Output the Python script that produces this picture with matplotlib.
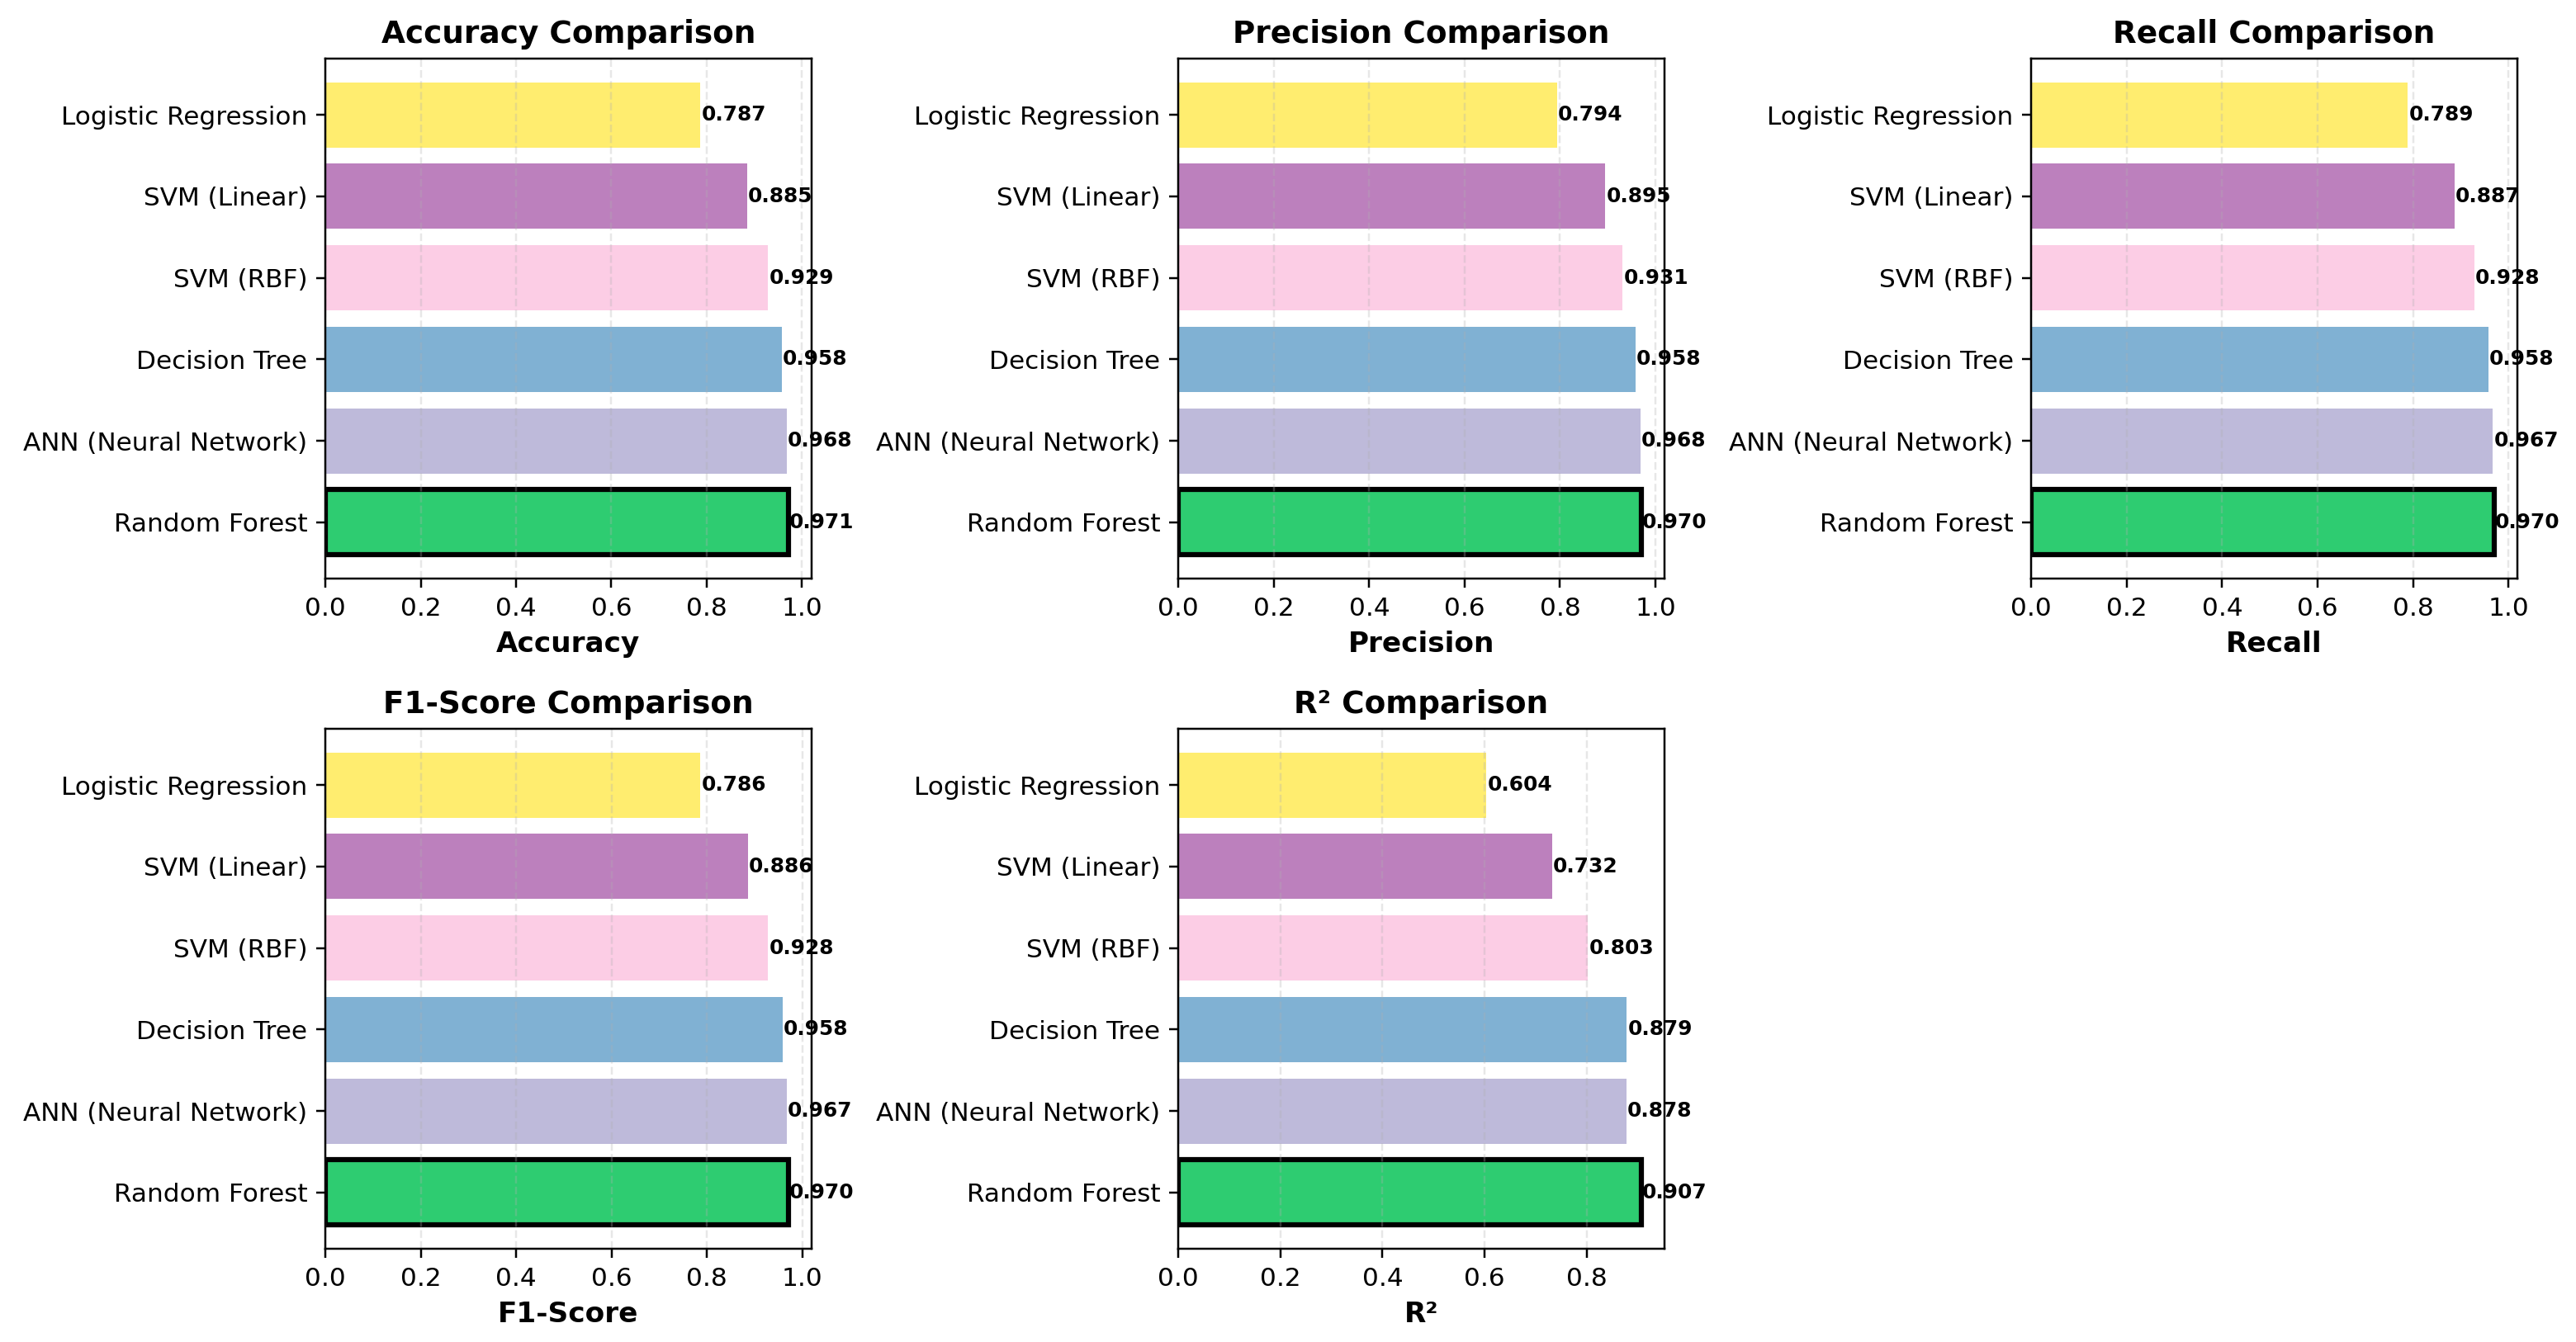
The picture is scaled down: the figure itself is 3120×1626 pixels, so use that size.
import matplotlib
matplotlib.use("Agg")
import matplotlib.pyplot as plt
import numpy as np

models = ["Random Forest", "ANN (Neural Network)", "Decision Tree",
          "SVM (RBF)", "SVM (Linear)", "Logistic Regression"]
accuracy = [0.971, 0.968, 0.958, 0.929, 0.885, 0.787]
precision = [0.970, 0.968, 0.958, 0.931, 0.895, 0.794]
recall = [0.970, 0.967, 0.958, 0.928, 0.887, 0.789]
f1 = [0.970, 0.967, 0.958, 0.928, 0.886, 0.786]
r2 = [0.907, 0.878, 0.879, 0.803, 0.732, 0.604]

metric_names = ["Accuracy", "Precision", "Recall", "F1-Score", "R²"]
metric_values = [accuracy, precision, recall, f1, r2]

colors = list(plt.cm.Set3(np.linspace(0, 1, len(models))))
colors[0] = "#2ecc71"

DPI = 224
fig, axes = plt.subplots(2, 3, figsize=(3120 / DPI, 1626 / DPI), dpi=DPI)
axes = axes.flatten()
for i, (name, vals) in enumerate(zip(metric_names, metric_values)):
    ax = axes[i]
    y = np.arange(len(models))
    bars = ax.barh(y, vals, color=colors)
    bars[0].set_edgecolor("black")
    bars[0].set_linewidth(2)
    ax.set_yticks(y)
    ax.set_yticklabels(models, fontsize=10)
    ax.set_xlabel(name, fontsize=11, fontweight="bold")
    ax.set_title(f"{name} Comparison", fontsize=12, fontweight="bold")
    ax.grid(axis="x", alpha=0.3, linestyle="--")
    for j, v in enumerate(vals):
        ax.text(v + 0.002, j, f"{v:.3f}", va="center", fontsize=8, fontweight="bold")
axes[5].axis("off")
fig.subplots_adjust(left=0.1263, right=0.9772, top=0.9563, bottom=0.0695,
                    wspace=0.7555, hspace=0.289)
plt.savefig("out.png", dpi=DPI)
